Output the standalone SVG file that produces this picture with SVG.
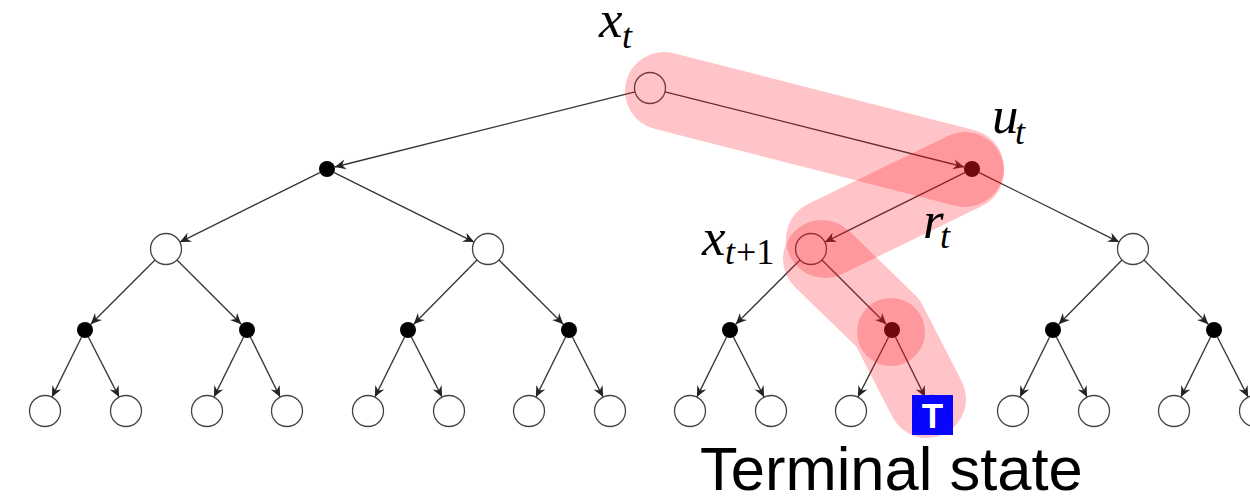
<svg xmlns="http://www.w3.org/2000/svg" width="1250" height="500" viewBox="0 0 1250 500">
<style>
.e{stroke:#333;stroke-width:1.3;fill:none;marker-end:url(#a)}
.w{fill:#fff;stroke:#444;stroke-width:1.3}
.b{fill:#000}
.band{fill:none;stroke:#ff1420;stroke-opacity:.25;stroke-linecap:round;stroke-linejoin:round}
.m{font-family:"Liberation Serif",serif;font-style:italic;fill:#000}
.s{font-size:36px}.l{font-size:53px}
</style>
<defs>
<marker id="a" markerUnits="userSpaceOnUse" markerWidth="14" markerHeight="12" refX="12" refY="6" orient="auto"><path d="M1,1 L12,6 L1,11 L4.5,6 Z" fill="#222"/></marker>
</defs>
<rect width="1250" height="500" fill="#fff"/>
<g id="connectors">
<path class="e" d="M635,91.8L334.8,167"/><path class="e" d="M665,91.8L964.2,167"/>
<path class="e" d="M319.8,172.6L179.9,242.1"/><path class="e" d="M334.2,172.6L474.1,242.1"/>
<path class="e" d="M964.8,172.6L824.9,242.1"/><path class="e" d="M979.2,172.6L1119.1,242.1"/>
<path class="e" d="M155,260L90.7,324.3"/><path class="e" d="M177,260L241.3,324.3"/>
<path class="e" d="M477,260L413.7,324.3"/><path class="e" d="M499,260L563.3,324.3"/>
<path class="e" d="M800,260L735.7,324.3"/><path class="e" d="M822,260L886.3,324.3"/>
<path class="e" d="M1122,260L1058.7,324.3"/><path class="e" d="M1144,260L1208.3,324.3"/>
<path class="e" d="M81.5,337.2L51.9,397.1"/><path class="e" d="M88.5,337.2L119.1,397.1"/>
<path class="e" d="M243.5,337.2L213.9,397.1"/><path class="e" d="M250.5,337.2L280.1,397.1"/>
<path class="e" d="M404.5,337.2L374.9,397.1"/><path class="e" d="M411.5,337.2L442.1,397.1"/>
<path class="e" d="M565.5,337.2L535.9,397.1"/><path class="e" d="M572.5,337.2L603.1,397.1"/>
<path class="e" d="M726.5,337.2L696.9,397.1"/><path class="e" d="M733.5,337.2L764.1,397.1"/>
<path class="e" d="M888.5,337.2L857.9,397.1"/><path class="e" d="M895.5,337.2L925.1,397.1"/>
<path class="e" d="M1049.5,337.2L1019.9,397.1"/><path class="e" d="M1056.5,337.2L1087.1,397.1"/>
<path class="e" d="M1210.5,337.2L1180.9,397.1"/><path class="e" d="M1217.5,337.2L1248.1,397.1"/>
</g>
<g id="nodes">
<circle id="n0" class="w" cx="650" cy="88" r="15.5"/>
<circle id="n1" class="b" cx="327" cy="169" r="8"/><circle id="n2" class="b" cx="972" cy="169" r="8"/>
<circle id="n3" class="w" cx="166" cy="249" r="15.5"/><circle id="n4" class="w" cx="488" cy="249" r="15.5"/><circle id="n5" class="w" cx="811" cy="249" r="15.5"/><circle id="n6" class="w" cx="1133" cy="249" r="15.5"/>
<circle id="n7" class="b" cx="85" cy="330" r="8"/><circle id="n8" class="b" cx="247" cy="330" r="8"/><circle id="n9" class="b" cx="408" cy="330" r="8"/><circle id="n10" class="b" cx="569" cy="330" r="8"/><circle id="n11" class="b" cx="730" cy="330" r="8"/><circle id="n12" class="b" cx="892" cy="330" r="8"/><circle id="n13" class="b" cx="1053" cy="330" r="8"/><circle id="n14" class="b" cx="1214" cy="330" r="8"/>
<circle id="n15" class="w" cx="45" cy="411" r="15.5"/><circle id="n16" class="w" cx="126" cy="411" r="15.5"/><circle id="n17" class="w" cx="207" cy="411" r="15.5"/><circle id="n18" class="w" cx="287" cy="411" r="15.5"/><circle id="n19" class="w" cx="368" cy="411" r="15.5"/><circle id="n20" class="w" cx="449" cy="411" r="15.5"/><circle id="n21" class="w" cx="529" cy="411" r="15.5"/><circle id="n22" class="w" cx="610" cy="411" r="15.5"/><circle id="n23" class="w" cx="690" cy="411" r="15.5"/><circle id="n24" class="w" cx="771" cy="411" r="15.5"/><circle id="n25" class="w" cx="851" cy="411" r="15.5"/><circle id="n26" class="w" cx="932" cy="411" r="15.5"/><circle id="n27" class="w" cx="1013" cy="411" r="15.5"/><circle id="n28" class="w" cx="1094" cy="411" r="15.5"/><circle id="n29" class="w" cx="1174" cy="411" r="15.5"/><circle id="n30" class="w" cx="1255" cy="411" r="15.5"/>
</g>
<g id="highlight">
<path class="band" stroke-width="78" d="M664,91L965,168"/>
<path class="band" stroke-width="78" d="M965,171L825,239"/>
<path class="band" stroke-width="78" d="M822,259L888,323L927,399"/>
<circle cx="891" cy="332" r="34" fill="#ff1420" fill-opacity=".25"/>
</g>
<g id="terminal">
<rect x="912" y="395" width="41" height="40" fill="#0000ff" fill-opacity=".97"/>
<text x="932.5" y="428" text-anchor="middle" font-family="Liberation Sans,sans-serif" font-weight="bold" font-size="35" fill="#fff">T</text>
</g>
<g id="labels">
<text class="m l" x="599" y="37">x</text><text class="m s" x="622" y="48">t</text>
<text class="m l" x="992" y="133">u</text><text class="m s" x="1015" y="144">t</text>
<text class="m l" x="923" y="238">r</text><text class="m s" x="940" y="248">t</text>
<text class="m l" x="702" y="255">x</text><text class="m s" x="725" y="264">t</text><text class="s" x="736" y="264" font-family="Liberation Serif,serif">+1</text>
<text x="700" y="490" font-family="Liberation Sans,sans-serif" font-size="61.5">Terminal state</text>
</g>
</svg>
